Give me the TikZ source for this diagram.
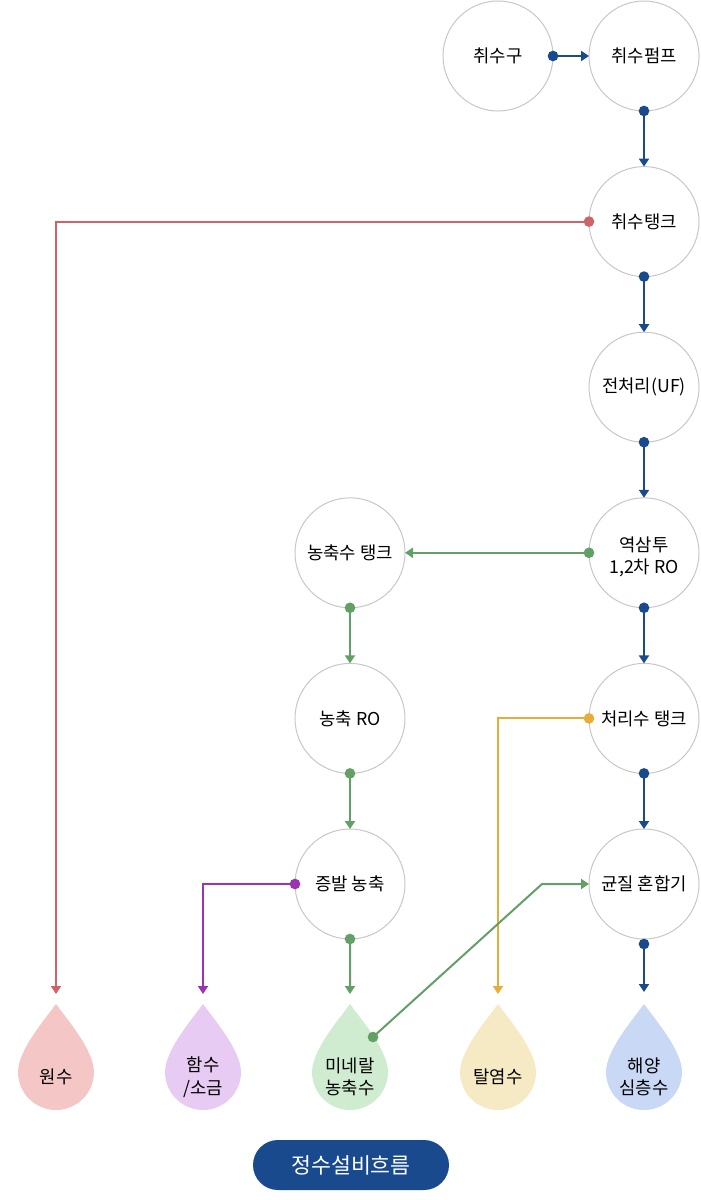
\documentclass[tikz,border=0pt]{standalone}
\usepackage{fontspec}
\setmainfont{Noto Sans CJK KR}
\usepackage{xcolor}
\usetikzlibrary{arrows.meta,positioning}
\definecolor{lineblue}{HTML}{1A4A8E}
\definecolor{linered}{HTML}{CF6468}
\definecolor{linegreen}{HTML}{62A066}
\definecolor{linepurple}{HTML}{9C33B0}
\definecolor{lineamber}{HTML}{E8AC38}
\definecolor{dropred}{HTML}{F4C6C6}
\definecolor{droppurple}{HTML}{E8CBF2}
\definecolor{dropgreen}{HTML}{CFEBD0}
\definecolor{dropamber}{HTML}{F5EAC3}
\definecolor{dropblue}{HTML}{C8D8F5}
\tikzset{
    stage/.style={circle, draw=black!22, line width=0.02cm, minimum size=2.2cm, inner sep=0, outer sep=0, align=center, font=\fontsize{10.1pt}{12.6pt}\selectfont},
    droplabel/.style={inner sep=0, align=center, font=\fontsize{10.1pt}{12.9pt}\selectfont},
    flow/.style={{Circle[length=2.1mm]}-{Triangle[length=1.6mm, width=2mm]}, line width=0.04cm, shorten <=-1.05mm},
    caption/.style={rectangle, rounded corners=0.5cm, fill=lineblue, text=white, minimum width=3.92cm, minimum height=1cm, font=\fontsize{12.3pt}{14pt}\selectfont},
}
\begin{document}
\begin{tikzpicture}[node distance=1.112cm]
    \useasboundingbox (0,0) rectangle (14,-24);

    \node[stage] (pump) at (12.88,-1.12) {취수펌프};
    \node[stage, left=0.72cm of pump] (intake) {취수구};
    \node[stage, below=of pump] (rawtank) {취수탱크};
    \node[stage, below=of rawtank] (pre) {전처리(UF)};
    \node[stage, below=of pre] (ro) {\rule{0pt}{0.45cm}역삼투\\1,2차 RO};
    \node[stage, below=of ro] (treated) {처리수 탱크};
    \node[stage, below=of treated] (mixer) {균질 혼합기};
    \node[stage, left=3.68cm of ro] (brine) {농축수 탱크};
    \node[stage, below=of brine] (brinero) {농축 RO};
    \node[stage, below=of brinero] (evap) {증발 농축};

    \foreach \n/\x/\c/\t in {raw/1.12/dropred/{원수}, salt/4.06/droppurple/{함수\\/소금}, mineral/7/dropgreen/{미네랄\\농축수}, desal/9.96/dropamber/{탈염수}, deep/12.88/dropblue/{해양\\심층수}} {
        \fill[\c] (\x,-20.08) .. controls (\x+0.2,-20.36) and (\x+0.76,-21) .. (\x+0.76,-21.44) arc[start angle=0, end angle=-180, radius=0.76] .. controls (\x-0.76,-21) and (\x-0.2,-20.36) .. (\x,-20.08);
        \node[droplabel] (\n) at (\x,-21.54) {\t};
        \coordinate (in-\n) at (\x,-19.88);
    }

    \coordinate (minout) at (7.46,-20.74);
    \coordinate (minbend) at (10.84,-17.68);
    \coordinate (deepout) at ([yshift=-0.1cm]mixer.south);
    \coordinate (deepin) at ([yshift=0.04cm]in-deep);

    \draw[flow, lineblue] (intake.east) -- (pump.west);
    \draw[flow, lineblue] (pump.south) -- (rawtank.north);
    \draw[flow, linered] (rawtank.west) -| (in-raw);
    \draw[flow, lineblue] (rawtank.south) -- (pre.north);
    \draw[flow, lineblue] (pre.south) -- (ro.north);
    \draw[flow, linegreen] (ro.west) -- (brine.east);
    \draw[flow, lineblue] (ro.south) -- (treated.north);
    \draw[flow, lineamber] (treated.west) -| (in-desal);
    \draw[flow, lineblue] (treated.south) -- (mixer.north);
    \draw[flow, lineblue] (deepout) -- (deepin);
    \draw[flow, linegreen] (brine.south) -- (brinero.north);
    \draw[flow, linegreen] (brinero.south) -- (evap.north);
    \draw[flow, linepurple] (evap.west) -| (in-salt);
    \draw[flow, linegreen] (evap.south) -- (in-mineral);
    \draw[flow, linegreen] (minout) -- (minbend) -- (mixer.west);

    \node[caption] (title) at (7.02,-23.3) {정수설비흐름};
\end{tikzpicture}
\end{document}
